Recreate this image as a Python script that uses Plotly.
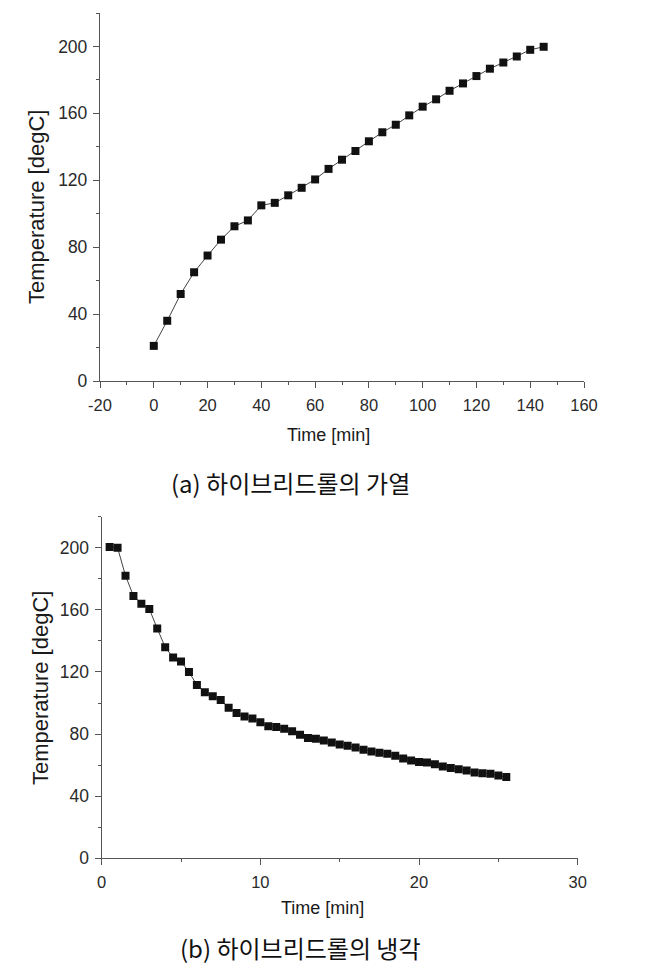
import plotly.graph_objects as go

# ---- data: (a) heating ----
heat_time = [0, 5, 10, 15, 20, 25, 30, 35, 40, 45, 50, 55, 60, 65, 70, 75, 80, 85,
             90, 95, 100, 105, 110, 115, 120, 125, 130, 135, 140, 145]
heat_temp = [21, 36, 52, 65, 75, 84.5, 92.5, 96, 105, 106.5, 111, 115.5, 120.5, 126.8,
             132.3, 137.5, 143.3, 148.7, 153.2, 158.8, 164, 168.4, 173.5, 177.9, 182.3,
             186.7, 190.4, 194, 198, 199.8]

# ---- data: (b) cooling ----
cool_time = [0.5, 1.0, 1.5, 2.0, 2.5, 3.0, 3.5, 4.0, 4.5, 5.0, 5.5, 6.0, 6.5, 7.0, 7.5,
             8.0, 8.5, 9.0, 9.5, 10.0, 10.5, 11.0, 11.5, 12.0, 12.5, 13.0, 13.5, 14.0,
             14.5, 15.0, 15.5, 16.0, 16.5, 17.0, 17.5, 18.0, 18.5, 19.0, 19.5, 20.0,
             20.5, 21.0, 21.5, 22.0, 22.5, 23.0, 23.5, 24.0, 24.5, 25.0, 25.5]
cool_temp = [200.5, 200, 182, 169, 164, 160.6, 148, 136, 129.3, 126.7, 120, 111.6, 107,
             104.4, 101.9, 97, 93.5, 91.4, 90.1, 87.7, 85, 84.5, 83.5, 81.8, 79.5, 77.4,
             77, 75.9, 74.6, 73.3, 72.5, 71.4, 69.9, 68.8, 67.9, 67.3, 66, 64.2, 63,
             62.1, 61.7, 60.6, 59.1, 58.1, 57.4, 56.5, 55.2, 54.8, 54.4, 53.3, 52.3]

# tick labels
heat_xticks = [-20, 0, 20, 40, 60, 80, 100, 120, 140, 160]
heat_xlabels = ["-20", "0", "20", "40", "60", "80", "100", "120", "140", "160"]
cool_xticks = [0, 10, 20, 30]
temp_ticks = [0, 40, 80, 120, 160, 200]

caption_a = "(a) 하이브리드롤의 가열"
caption_b = "(b) 하이브리드롤의 냉각"
x_title = "Time [min]"
y_title = "Temperature [degC]"

OFF = 8  # page body margin
W, H = 655 - OFF, 972 - OFF
FONT = "Liberation Sans, Arial, sans-serif"
AX = "#555555"
TXT = "#2a2a2a"

fig = go.Figure()
marker = dict(symbol="square", size=8, color="#111111")
line = dict(color="#444444", width=1)
fig.add_trace(go.Scatter(x=heat_time, y=heat_temp, mode="lines+markers",
                         marker=marker, line=line, xaxis="x", yaxis="y", showlegend=False))
fig.add_trace(go.Scatter(x=cool_time, y=cool_temp, mode="lines+markers",
                         marker=marker, line=line, xaxis="x2", yaxis="y2", showlegend=False))


def px_x(p):
    return (p - OFF) / W


def px_y(p):
    return 1 - (p - OFF) / H


common = dict(showgrid=False, zeroline=False, showline=True, linecolor=AX, linewidth=1.3,
              ticks="outside", ticklen=6, tickwidth=1.2, tickcolor=AX,
              automargin=False, mirror=False)
xtf = dict(family=FONT, size=16.5, color=TXT)
ytf = dict(family=FONT, size=17.5, color=TXT)
minor_c = dict(ticks="outside", ticklen=3, tickcolor=AX, tickwidth=1)

fig.update_layout(
    width=W, height=H, margin=dict(l=0, r=0, t=0, b=0),
    paper_bgcolor="white", plot_bgcolor="white",
    xaxis=dict(common, domain=[px_x(100), px_x(584)], range=[-20, 160], tickfont=xtf,
               tickvals=heat_xticks, ticktext=heat_xlabels, anchor="y", ticklabelstandoff=3,
               minor=dict(minor_c, dtick=10)),
    yaxis=dict(common, domain=[px_y(381), px_y(13)], range=[0, 220], tickfont=ytf,
               tickvals=temp_ticks, anchor="x", ticklabelstandoff=2,
               minor=dict(minor_c, dtick=20)),
    xaxis2=dict(common, domain=[px_x(101.7), px_x(577.7)], range=[0, 30], tickfont=xtf,
                tickvals=cool_xticks, anchor="y2", ticklabelstandoff=3,
                minor=dict(minor_c, dtick=5)),
    yaxis2=dict(common, domain=[px_y(858.3), px_y(516.7)], range=[0, 220], tickfont=ytf,
                tickvals=temp_ticks, anchor="x2", ticklabelstandoff=2,
                minor=dict(minor_c, dtick=20)),
)

xfont = dict(family=FONT, size=18, color="#1a1a1a")
yfont = dict(family=FONT, size=22, color="#1a1a1a")
cfont = dict(family="Noto Sans CJK KR", size=24, color="#111111")
ann = [
    dict(text=x_title, x=px_x(328), y=px_y(435), font=xfont),
    dict(text=y_title, x=px_x(37), y=px_y(207), font=yfont, textangle=-90),
    dict(text=caption_a, x=px_x(290), y=px_y(482), font=cfont),
    dict(text=x_title, x=px_x(322), y=px_y(908), font=xfont),
    dict(text=y_title, x=px_x(40), y=px_y(688), font=yfont, textangle=-90),
    dict(text=caption_b, x=px_x(300), y=px_y(947), font=cfont),
]
for a in ann:
    fig.add_annotation(xref="paper", yref="paper", showarrow=False,
                       xanchor="center", yanchor="middle", **a)

fig.write_html("out.html")
